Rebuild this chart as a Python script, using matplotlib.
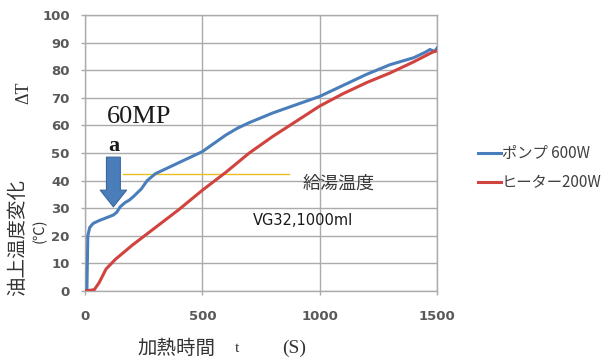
import matplotlib
matplotlib.use("Agg")
from matplotlib import pyplot as plt

# ポンプ 600W (blue)
pump_t = [0, 8, 12, 20, 35, 60, 90, 120, 135, 150, 170, 190, 210, 240, 265, 300,
          350, 400, 450, 500, 550, 600, 650, 700, 800, 900, 1000, 1100, 1200,
          1300, 1400, 1450, 1470, 1490, 1500]
pump_dt = [0, 0, 20, 23, 24.5, 25.5, 26.5, 27.5, 28.5, 30.5, 32, 33, 34.5, 37, 40, 42.5,
           44.5, 46.5, 48.5, 50.5, 53.5, 56.5, 59, 61, 64.5, 67.5, 70.5, 74.5, 78.5,
           82, 84.5, 86.5, 87.5, 86.8, 88]

# ヒーター200W (red)
heater_t = [0, 40, 60, 90, 130, 200, 300, 400, 500, 600, 700, 800, 900, 1000,
            1100, 1200, 1300, 1400, 1480, 1500]
heater_dt = [0, 0.5, 3, 8, 11.5, 16.5, 23, 29.5, 36.5, 43, 50, 56, 61.5, 67,
             71.5, 75.5, 79, 83, 86.5, 87]

# 給湯温度 line
supply_t = [160, 870]
supply_dt = [42.5, 42.5]

xticks = [0, 500, 1000, 1500]
yticks = list(range(0, 101, 10))

jp = "Noto Sans CJK JP"
serif = "Liberation Serif"

fig = plt.figure(figsize=(6.14, 3.61), dpi=100)
ax = fig.add_axes([85 / 614, 1 - 291 / 361, (437 - 85) / 614, (291 - 15) / 361])

ax.plot(pump_t, pump_dt, color="#4A7EBB", lw=2.2, label="ポンプ 600W", zorder=3)
ax.plot(heater_t, heater_dt, color="#D0433F", lw=2.2, label="ヒーター200W", zorder=3)
ax.plot(supply_t, supply_dt, color="#E8C020", lw=1.0, zorder=2)

ax.set_xlim(0, 1500)
ax.set_ylim(0, 100)
ax.set_xticks(xticks)
ax.set_yticks(yticks)
ax.grid(True, color="#ABABAB", lw=1.0)
ax.set_axisbelow(True)
for s in ax.spines.values():
    s.set_color("#ABABAB")
    s.set_linewidth(1.0)
ax.tick_params(axis="both", colors="#ABABAB", length=3, width=1.0,
               labelcolor="#595959", labelsize=9.5)
ax.tick_params(axis="x", pad=11)
ax.tick_params(axis="y", pad=8)
for lab in ax.get_xticklabels() + ax.get_yticklabels():
    lab.set_fontfamily("DejaVu Sans")
    lab.set_fontweight("bold")

# annotations
ax.text(94, 63, "60MP", family=serif, fontsize=19, va="center", ha="left", color="#1a1a1a")
ax.text(121, 52.5, "a", family=serif, fontsize=16, va="center", ha="center",
        weight="bold", color="#1a1a1a")
ax.annotate("", xy=(121, 30.5), xytext=(121, 48.5),
            arrowprops=dict(arrowstyle="simple,head_length=1.2,head_width=1.9,tail_width=1.0",
                            mutation_scale=10, facecolor="#4A7EBB", edgecolor="#3A669C",
                            lw=0.8, shrinkA=0, shrinkB=0))
ax.text(928, 39, "給湯温度", family=jp, fontsize=13, va="center", ha="left", color="#3a3a3a")
ax.text(716, 25.7, "VG32,1000ml", family="DejaVu Sans", fontsize=10.5, va="center",
        ha="left", color="#1a1a1a")

# axis titles
fig.text(24 / 614, 1 - 93 / 361, "ΔT", family=serif, fontsize=13, rotation=90,
         ha="center", va="center", color="#333333")
fig.text(18 / 614, 1 - 237 / 361, "油上温度変化", family=jp, fontsize=14, rotation=90,
         ha="center", va="center", color="#333333")
fig.text(40 / 614, 1 - 231 / 361, "(℃)", family=[jp, "DejaVu Sans"], fontsize=10.5,
         rotation=90, ha="center", va="center", color="#333333")
fig.text(137 / 614, 1 - 348 / 361, "加熱時間", family=jp, fontsize=14,
         ha="left", va="center", color="#333333")
fig.text(237 / 614, 1 - 349 / 361, "t", family=serif, fontsize=11,
         ha="center", va="center", color="#333333")
fig.text(282 / 614, 1 - 348 / 361, "(S)", family=serif, fontsize=14,
         ha="left", va="center", color="#333333")

leg = ax.legend(loc="center left", bbox_to_anchor=(478 / 614, 1 - 168 / 361),
                bbox_transform=fig.transFigure, frameon=False, handlelength=1.5,
                handletextpad=0.05, labelspacing=0.8, prop={"family": jp, "size": 11},
                borderpad=0, borderaxespad=0)
for t in leg.get_texts():
    t.set_color("#404040")

fig.savefig("out.png", dpi=100, facecolor="white")
